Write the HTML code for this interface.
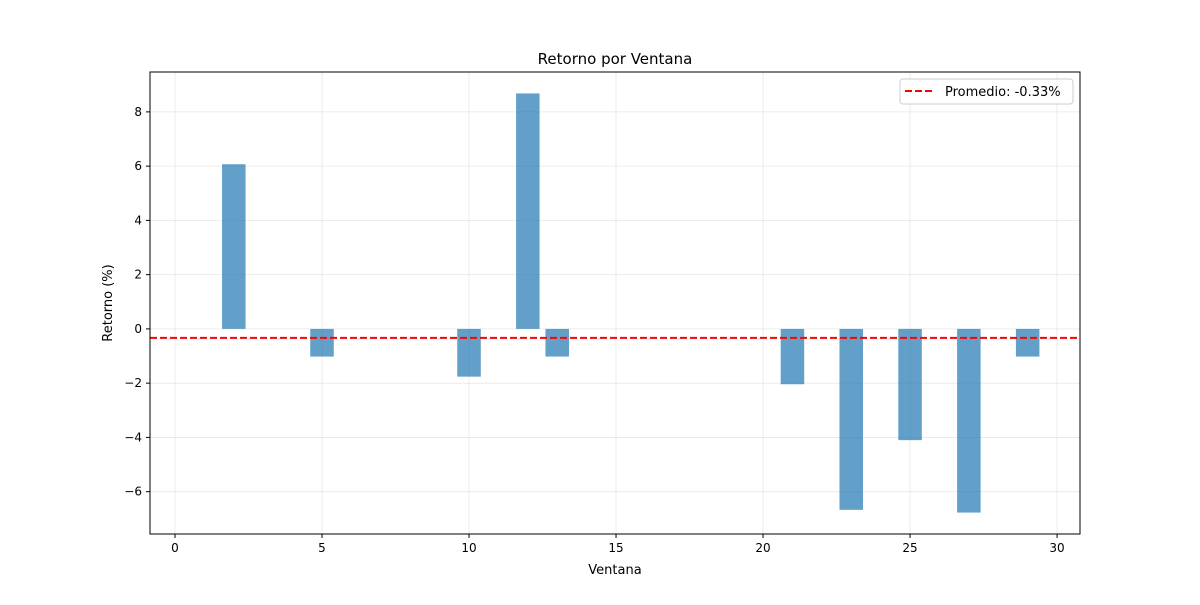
<!DOCTYPE html>
<html><head><meta charset="utf-8"><style>
body{margin:0;background:#fff;}
svg text{font-family:"DejaVu Sans","Liberation Sans",sans-serif;}
</style></head><body>
<svg id="chart" width="1200" height="600" xmlns="http://www.w3.org/2000/svg"></svg>
<script>
const windows=[0,1,2,3,4,5,6,7,8,9,10,11,12,13,14,15,16,17,18,19,20,21,22,23,24,25,26,27,28,29,30];
const returns=[0,0,6.07,0,0,-1.02,0,0,0,0,-1.76,0,8.68,-1.02,0,0,0,0,0,0,0,-2.04,0,-6.67,0,-4.1,0,-6.77,0,-1.02,0];
const meanValue=-0.33;
const xTicks=[0,5,10,15,20,25,30];
const yTicks=[-6,-4,-2,0,2,4,6,8];
const tickLabels=["−6","−4","−2","0","2","4","6","8"];

const L=150,R=1080,T=72,B=534;
const xMin=-0.85,xMax=30.78,yMin=-7.56,yMax=9.47;
const sx=v=>L+(v-xMin)/(xMax-xMin)*(R-L);
const sy=v=>B-(v-yMin)/(yMax-yMin)*(B-T);
const svg=document.getElementById('chart');
const NS="http://www.w3.org/2000/svg";
function mk(tag,attrs,parent){const e=document.createElementNS(NS,tag);for(const k in attrs)e.setAttribute(k,attrs[k]);(parent||svg).appendChild(e);return e;}

// grid
xTicks.forEach(t=>{
  const g=mk('line',{x1:sx(t),x2:sx(t),y1:T,y2:B,stroke:'#b0b0b0','stroke-opacity':0.3,'stroke-width':0.8});
  
  
});
yTicks.forEach(t=>{
  const g=mk('line',{x1:L,x2:R,y1:sy(t),y2:sy(t),stroke:'#b0b0b0','stroke-opacity':0.3,'stroke-width':0.8});
  
  
});
// bars
windows.forEach((w,i)=>{
  const v=returns[i];
  if(v===0)return;
  const y0=sy(Math.max(0,v)),y1=sy(Math.min(0,v));
  const b=mk('rect',{x:sx(w-0.4),y:y0,width:sx(w+0.4)-sx(w-0.4),height:y1-y0,fill:'#1f77b4','fill-opacity':0.7});
  
  
});
// mean line
const ml=mk('line',{x1:L,x2:R,y1:sy(meanValue),y2:sy(meanValue),stroke:'#ff0000','stroke-width':2,'stroke-dasharray':'7,3'});


// axes frame
const fr=mk('rect',{x:L,y:T,width:R-L,height:B-T,fill:'none',stroke:'#000','stroke-width':1});


// ticks
xTicks.forEach(t=>{
  mk('line',{x1:sx(t),x2:sx(t),y1:B,y2:B+4,stroke:'#000'});
  const tx=mk('text',{x:sx(t),y:B+18,'text-anchor':'middle','font-size':12});
  tx.textContent=t;
  
  
});
yTicks.forEach((t,i)=>{
  mk('line',{x1:L-4,x2:L,y1:sy(t),y2:sy(t),stroke:'#000'});
  const tx=mk('text',{x:L-8,y:sy(t)+4,'text-anchor':'end','font-size':12});
  tx.textContent=tickLabels[i];
  
  
});
</script>
<svg width="1200" height="600" style="position:absolute;left:0;top:0" xmlns="http://www.w3.org/2000/svg">
<text x="615" y="64" text-anchor="middle" font-size="15">Retorno por Ventana</text>
<text x="615" y="574" text-anchor="middle" font-size="13">Ventana</text>
<text x="112" y="303" text-anchor="middle" font-size="13" transform="rotate(-90 112 303)">Retorno (%)</text>
<g>
<rect x="900" y="79" width="173" height="25" rx="3" fill="#fff" fill-opacity="0.8" stroke="#ccc"/>
<line x1="905" y1="91" x2="933" y2="91" stroke="#ff0000" stroke-width="2" stroke-dasharray="7,3"/>
<text x="945" y="96" font-size="13">Promedio: -0.33%</text>
</g>
</svg>
</body></html>
